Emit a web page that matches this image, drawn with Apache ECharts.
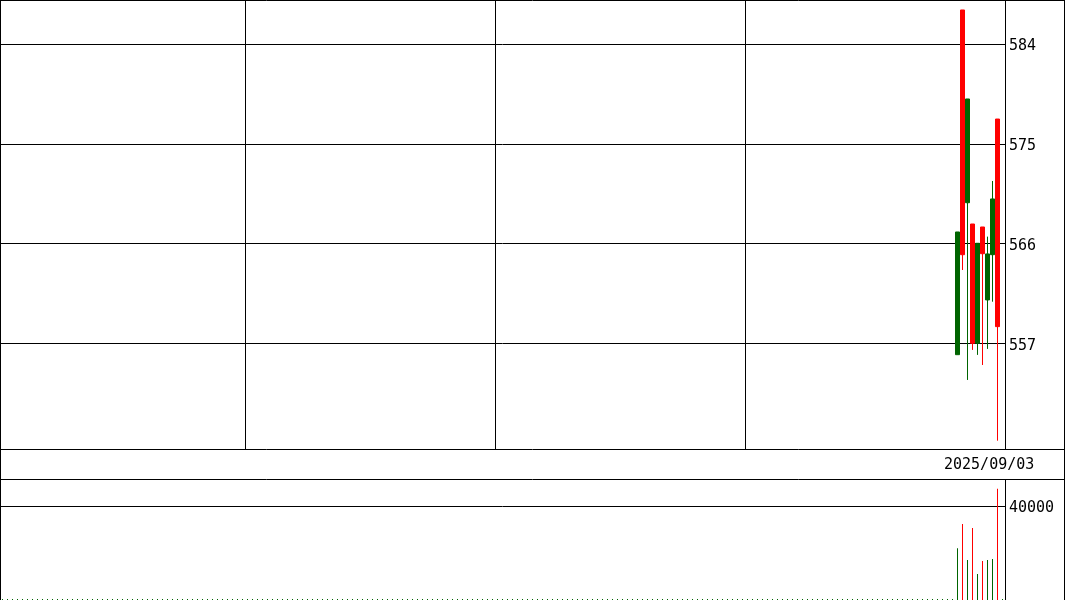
<!DOCTYPE html>
<html>
<head>
<meta charset="utf-8">
<script src="https://cdn.jsdelivr.net/npm/echarts@6/dist/echarts.min.js"></script>
<style>
html,body{margin:0;padding:0;background:#fff;}
#chart{width:1065px;height:600px;}
</style>
</head>
<body>
<div id="chart"></div>
<script>
// ---- data ----
const slotCount = 201;           // category slots on the time axis
const firstSlot = 191;           // slot index of first candle
const opens  = [555.97, 587.07, 569.68, 567.76, 557.00, 567.49, 560.91, 564.99, 577.23];
const closes = [567.04, 564.99, 579.04, 557.00, 566.02, 565.08, 565.06, 570.02, 558.50];
const lows   = [555.97, 563.61, 553.69, 556.40, 555.95, 555.04, 556.49, 560.75, 548.21];
const highs  = [567.04, 587.07, 579.04, 567.76, 566.02, 567.49, 566.62, 571.64, 577.23];
const volumes = [22000, 32340, 17020, 30640, 11060, 16600, 17020, 17450, 47230];
const priceTicks = [557, 566, 575, 584];
const volumeTicks = [40000];
const dateLabel = '2025/09/03';
const priceMin = 547.46, priceMax = 587.97;
const volumeMax = 51000;
const gridSlots = [49, 99, 149];

// ---- build series ----
const UP = '#006400', DOWN = '#ff0000';
const categories = Array.from({length: slotCount}, (_, i) => String(i));
const candleData = categories.map(() => '-');
const volumeData = categories.map(() => ({value: 0, itemStyle: {color: UP}}));
opens.forEach((o, k) => {
  const idx = firstSlot + k;
  candleData[idx] = [o, closes[k], lows[k], highs[k]];
  volumeData[idx] = {value: volumes[k], itemStyle: {color: closes[k] >= o ? UP : DOWN}};
});

const FONT = 'DejaVu Sans Mono';
const chart = echarts.init(document.getElementById('chart'), null, {renderer: 'canvas'});
const line = (x1, y1, x2, y2) => ({
  type: 'line', z: 100, silent: true,
  shape: {x1, y1, x2, y2},
  style: {stroke: '#000', lineWidth: 1}
});
const labelStyle = {
  margin: 4, color: '#000',
  formatter: (v) => '{t|' + v + '}',
  rich: {t: {fontFamily: FONT, fontSize: 15, color: '#000', padding: [5, 0, 0, 0]}}
};

chart.setOption({
  animation: false,
  backgroundColor: '#fff',
  title: {
    text: dateLabel, left: 944, top: 458, padding: 0,
    textStyle: {fontFamily: FONT, fontSize: 15, fontWeight: 'normal', color: '#000'}
  },
  grid: [
    {left: 0, top: 0, width: 1005, height: 449, show: false},
    {left: 0, top: 480, width: 1005, height: 120, show: false}
  ],
  xAxis: [
    {
      type: 'category', gridIndex: 0, data: categories, boundaryGap: true,
      axisLine: {show: false}, axisTick: {show: false}, axisLabel: {show: false},
      splitLine: {show: true, interval: (i) => gridSlots.indexOf(i) >= 0,
                  lineStyle: {color: '#000', width: 1}}
    },
    {
      type: 'category', gridIndex: 1, data: categories, boundaryGap: true,
      axisLine: {show: false}, axisTick: {show: false}, axisLabel: {show: false},
      splitLine: {show: false}
    }
  ],
  yAxis: [
    {
      type: 'value', gridIndex: 0, position: 'right', min: priceMin, max: priceMax,
      axisLine: {show: false},
      axisTick: {show: false, customValues: priceTicks},
      axisLabel: Object.assign({customValues: priceTicks}, labelStyle),
      splitLine: {show: true, lineStyle: {color: '#000', width: 1}}
    },
    {
      type: 'value', gridIndex: 1, position: 'right', min: 0, max: volumeMax,
      axisLine: {show: false},
      axisTick: {show: false, customValues: volumeTicks},
      axisLabel: Object.assign({customValues: volumeTicks}, labelStyle),
      splitLine: {show: true, lineStyle: {color: '#000', width: 1}}
    }
  ],
  series: [
    {
      type: 'candlestick', xAxisIndex: 0, yAxisIndex: 0, data: candleData,
      barWidth: 4,
      itemStyle: {color: UP, color0: DOWN, borderColor: UP, borderColor0: DOWN, borderWidth: 1},
      emphasis: {disabled: true}
    },
    {
      type: 'bar', xAxisIndex: 1, yAxisIndex: 1, data: volumeData,
      barWidth: 1, barMinHeight: 1,
      emphasis: {disabled: true}
    }
  ],
  graphic: [
    line(0, 0.5, 1065, 0.5),
    line(0.5, 0, 0.5, 600),
    line(1064.5, 0, 1064.5, 600),
    line(1005.5, 479.5, 1005.5, 600),
    line(0, 449.5, 1065, 449.5),
    line(0, 479.5, 1065, 479.5)
  ]
});
</script>
</body>
</html>
